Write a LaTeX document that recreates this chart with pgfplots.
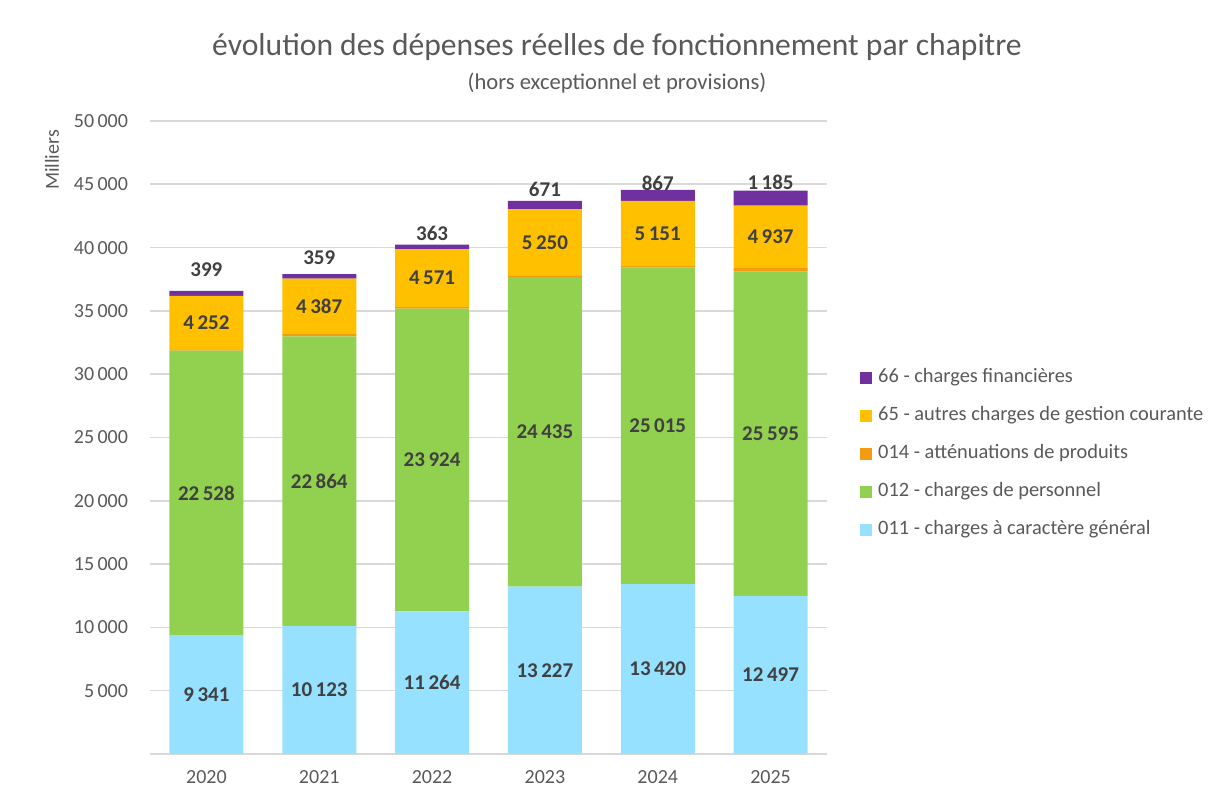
\documentclass[border=0pt]{standalone}
\usepackage{pgfplots}
\pgfplotsset{compat=1.18}
\usepackage{pgfplotstable}
\usepackage{fontspec}
\setmainfont{Carlito}

\definecolor{c011}{HTML}{95E1FF}
\definecolor{c012}{HTML}{92D050}
\definecolor{c014}{HTML}{F39C12}
\definecolor{c65}{HTML}{FFC000}
\definecolor{c66}{HTML}{7030A0}
\definecolor{txtgray}{HTML}{595959}
\definecolor{lblgray}{HTML}{404040}
\definecolor{gridgray}{HTML}{D9D9D9}

% depenses en milliers, 0 = 2020 ... 5 = 2025
% ly = hauteur du libelle du chapitre 66 (place a la main dans l'original)
\pgfplotstableread{
x s011  s012  s014 s65  s66  ly
0 9341  22528 60   4252 399  38230
1 10123 22864 180  4387 359  39180
2 11264 23924 110  4571 363  41150
3 13227 24435 100  5250 671  44630
4 13420 25015 110  5151 867  45100
5 12497 25595 280  4937 1185 45180
}\depenses

\tikzset{
  lbl/.style={
    font=\fontsize{10.5}{12}\selectfont\bfseries, text=lblgray,
    /pgf/number format/fixed, /pgf/number format/precision=0,
    /pgf/number format/1000 sep={\,}, /pgf/number format/assume math mode=true,
  },
}
\pgfplotsset{
  common/.style={
    at={(75pt,23.5pt)}, anchor=south west,
    scale only axis, width=338.5pt, height=316.5pt,
    xmin=-0.5, xmax=5.5, ymin=0, ymax=50000,
  },
}

\begin{document}
\begin{tikzpicture}
\path[use as bounding box] (0,0) rectangle (607.5pt,400.5pt);

\begin{axis}[
  common,
  ybar stacked,
  bar width=37pt,
  xtick={0,...,5},
  xticklabels={2020,2021,2022,2023,2024,2025},
  ytick={5000,10000,...,50000},
  scaled y ticks=false,
  yticklabel style={xshift=-7.5pt, /pgf/number format/fixed, /pgf/number format/1000 sep={\,}, /pgf/number format/assume math mode=true},
  xticklabel style={yshift=-4.5pt},
  ticklabel style={font=\fontsize{10}{12}\selectfont, text=txtgray},
  major tick length=0pt,
  ymajorgrids, grid style={draw=gridgray, line width=0.8pt},
  axis lines*=left,
  x axis line style={draw=gridgray, line width=1pt, -},
  y axis line style={draw=none},
  reverse legend,
  legend cell align=left,
  legend style={
    at={(1.039,0.617)}, anchor=north west, draw=none, fill=none,
    font=\fontsize{10.2}{12}\selectfont, text=txtgray,
    row sep=9pt,
    nodes={inner sep=1pt, text height=6.5pt, text depth=1.5pt},
  },
  legend image code/.code={\fill[#1] (0pt,-3.1pt) rectangle (6.2pt,3.1pt); \path (8.2pt,0pt);},
]
\addplot[fill=c011, draw=none] table[x=x, y=s011] {\depenses};
\addlegendentry{011 - charges à caractère général}
\addplot[fill=c012, draw=none] table[x=x, y=s012] {\depenses};
\addlegendentry{012 - charges de personnel}
\addplot[fill=c014, draw=none] table[x=x, y=s014] {\depenses};
\addlegendentry{014 - atténuations de produits}
\addplot[fill=c65, draw=none] table[x=x, y=s65] {\depenses};
\addlegendentry{65 - autres charges de gestion courante}
\addplot[fill=c66, draw=none] table[x=x, y=s66] {\depenses};
\addlegendentry{66 - charges financières}
\end{axis}

% libelles des segments
\begin{axis}[
  common, hide axis, clip=false,
  nodes near coords, point meta=explicit,
  every node near coord/.append style={lbl, anchor=center},
]
\addplot[draw=none, mark=none] table[x=x, y expr=\thisrow{s011}/2, meta=s011] {\depenses};
\addplot[draw=none, mark=none] table[x=x, y expr=\thisrow{s011}+\thisrow{s012}/2, meta=s012] {\depenses};
\addplot[draw=none, mark=none] table[x=x, y expr=\thisrow{s011}+\thisrow{s012}+\thisrow{s014}+\thisrow{s65}/2, meta=s65] {\depenses};
\addplot[draw=none, mark=none] table[x=x, y=ly, meta=s66] {\depenses};
\end{axis}

\node[text=txtgray, font=\fontsize{15.8}{18}\selectfont] at (308.5pt,377pt) {évolution des dépenses réelles de fonctionnement par chapitre};
\node[text=txtgray, font=\fontsize{11.3}{13}\selectfont] at (308.5pt,359pt) {(hors exceptionnel et provisions)};
\node[text=txtgray, font=\fontsize{10}{12}\selectfont, rotate=90] at (26pt,320.5pt) {Milliers};
\end{tikzpicture}
\end{document}
